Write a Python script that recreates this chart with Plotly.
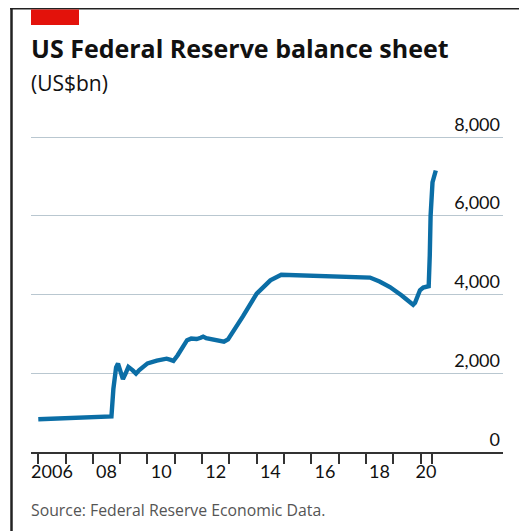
import plotly.graph_objects as go

# ---- data ----
years = [2006.0, 2006.5, 2007.0, 2007.5, 2008.0, 2008.5, 2008.68, 2008.75, 2008.85, 2008.92,
         2009.0, 2009.1, 2009.2, 2009.3, 2009.45, 2009.58, 2009.7, 2009.85, 2010.0, 2010.34,
         2010.7, 2010.85, 2010.95, 2011.1, 2011.3, 2011.45, 2011.6, 2011.8, 2011.95, 2012.04,
         2012.15, 2012.4, 2012.6, 2012.8, 2012.95, 2013.1, 2013.5, 2014.0, 2014.5, 2014.9,
         2015.2, 2015.7, 2016.0, 2016.5, 2017.0, 2017.5, 2018.0, 2018.15, 2018.5, 2018.88,
         2019.3, 2019.73, 2019.8, 2019.98, 2020.1, 2020.2, 2020.3, 2020.34, 2020.37, 2020.44,
         2020.5, 2020.56]
assets_bn = [830, 845, 860, 870, 880, 895, 905, 1600, 2150, 2245,
             2050, 1850, 2000, 2160, 2080, 1990, 2080, 2175, 2250, 2320,
             2370, 2340, 2315, 2450, 2680, 2840, 2880, 2870, 2900, 2930,
             2890, 2855, 2830, 2800, 2860, 3010, 3450, 4020, 4360, 4500,
             4495, 4488, 4475, 4470, 4462, 4458, 4450, 4430, 4330, 4190,
             3980, 3740, 3790, 4107, 4175, 4190, 4210, 5000, 6000, 6850,
             7050, 7150]

y_tickvals = [0, 2000, 4000, 6000, 8000]
y_ticktext = ["0", "2,000", "4,000", "6,000", "8,000"]
x_tick_years = [2006, 2007, 2008, 2009, 2010, 2011, 2012, 2013, 2014, 2015, 2016,
                2017, 2018, 2019, 2020, 2020.43]
x_label_pos = [2006.5, 2008.5, 2010.5, 2012.5, 2014.5, 2016.5, 2018.5, 2020.2]
x_label_text = ["2006", "08", "10", "12", "14", "16", "18", "20"]

title = "<b>US Federal Reserve balance sheet</b>"
subtitle = "(US$bn)"
source = "Source: Federal Reserve Economic Data."

# ---- layout geometry (pixels in the 527x531 window; page body has an 8px margin) ----
OFF = 8
W, H = 527 - OFF, 531 - OFF
PX_PER_1000 = 39.375
L, R, T, B = 31, 503, 112, 452          # plot area in window pixels (headroom for top label)
Y_TOP = (B - T) / PX_PER_1000 * 1000
XR = [2005.733, 2023.022]
FONT = "Open Sans"
TICKFONT = "Lato"


def fx(px):
    return (px - L) / (R - L)


def fy(py):
    return (B - py) / (B - T)


fig = go.Figure()
fig.add_trace(go.Scatter(
    x=years, y=assets_bn, mode="lines",
    line=dict(color="#0b6ea6", width=4.4),
    hoverinfo="skip", showlegend=False,
))
# invisible helper trace carrying the label axis
fig.add_trace(go.Scatter(
    x=x_label_pos, y=[0] * len(x_label_pos), xaxis="x2", mode="markers",
    marker=dict(opacity=0), hoverinfo="skip", showlegend=False,
))

fig.update_layout(
    width=W, height=H,
    margin=dict(l=L - OFF, r=W - (R - OFF), t=T - OFF, b=H - (B - OFF), pad=0),
    paper_bgcolor="white", plot_bgcolor="white",
    font=dict(family=FONT, color="#111"),
    xaxis=dict(
        range=XR, tickvals=x_tick_years, ticktext=[""] * len(x_tick_years),
        showticklabels=False, ticks="outside", ticklen=10, tickwidth=1.5,
        tickcolor="#333", showline=True, linecolor="#333", linewidth=1.6,
        showgrid=False, zeroline=False, fixedrange=True,
    ),
    xaxis2=dict(
        range=XR, overlaying="x", anchor="y", side="bottom",
        tickvals=x_label_pos, ticktext=x_label_text,
        ticks="outside", ticklen=3, tickcolor="rgba(0,0,0,0)",
        tickfont=dict(family=TICKFONT, size=18, color="#111"),
        showline=False, showgrid=False, zeroline=False, fixedrange=True,
    ),
    yaxis=dict(
        range=[0, Y_TOP], tickvals=y_tickvals, ticktext=y_ticktext,
        side="right", ticklabelposition="inside top", ticks="",
        tickfont=dict(family=TICKFONT, size=18, color="#111"),
        showgrid=True, gridcolor="#b9c7d0", gridwidth=1.2,
        zeroline=False, showline=False, fixedrange=True,
    ),
    shapes=[
        # frame
        dict(type="line", xref="paper", yref="paper", x0=fx(10), x1=fx(525), y0=fy(8), y1=fy(8),
             line=dict(color="#222", width=3)),
        dict(type="line", xref="paper", yref="paper", x0=fx(11.5), x1=fx(11.5), y0=fy(7), y1=fy(540),
             line=dict(color="#222", width=2.5)),
        dict(type="line", xref="paper", yref="paper", x0=fx(525), x1=fx(525), y0=fy(7), y1=fy(540),
             line=dict(color="#999", width=1)),
        # red tag
        dict(type="rect", xref="paper", yref="paper", x0=fx(31), x1=fx(79), y0=fy(25), y1=fy(9.5),
             fillcolor="#e3120b", line=dict(width=0)),
    ],
    annotations=[
        dict(text=title, xref="paper", yref="paper", x=fx(29), y=fy(48), xanchor="left",
             yanchor="middle", showarrow=False, font=dict(family=FONT, size=25, color="#111")),
        dict(text=subtitle, xref="paper", yref="paper", x=fx(29), y=fy(83), xanchor="left",
             yanchor="middle", showarrow=False, font=dict(family=FONT, size=21, color="#111")),
        dict(text=source, xref="paper", yref="paper", x=fx(29), y=fy(509.5), xanchor="left",
             yanchor="middle", showarrow=False, font=dict(family=FONT, size=15.8, color="#555")),
    ],
)

fig.write_html("out.html")
